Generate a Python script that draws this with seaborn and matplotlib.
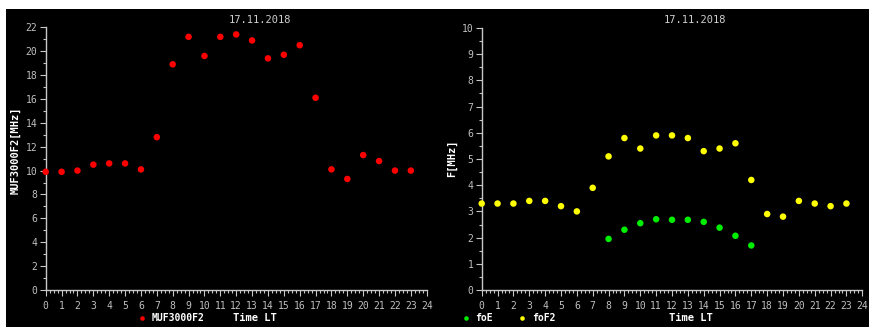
import numpy as np
import pandas as pd
import matplotlib
matplotlib.use("Agg")
import matplotlib.pyplot as plt
import seaborn as sns
from matplotlib.patches import Rectangle
from matplotlib.ticker import MultipleLocator

# ---- data ----
hours = list(range(24))
muf3000f2 = [9.9, 9.9, 10.0, 10.5, 10.6, 10.6, 10.1, 12.8, 18.9, 21.2, 19.6, 21.2,
             21.4, 20.9, 19.4, 19.7, 20.5, 16.1, 10.1, 9.3, 11.3, 10.8, 10.0, 10.0]
fof2 = [3.3, 3.3, 3.3, 3.4, 3.4, 3.2, 3.0, 3.9, 5.1, 5.8, 5.4, 5.9,
        5.9, 5.8, 5.3, 5.4, 5.6, 4.2, 2.9, 2.8, 3.4, 3.3, 3.2, 3.3]
foe_hours = [8, 9, 10, 11, 12, 13, 14, 15, 16, 17]
foe = [1.95, 2.3, 2.55, 2.7, 2.68, 2.68, 2.6, 2.38, 2.07, 1.7]
date_title = "17.11.2018"

sns.set_style("dark")
plt.rcParams['font.family'] = ['DejaVu Sans Mono', 'DejaVu Sans']

W, H = 869, 327
fig = plt.figure(figsize=(W / 100, H / 100), dpi=100, facecolor="white")
fig.patches.append(Rectangle((6 / W, 0), 1 - 6 / W, (H - 9) / H,
                             transform=fig.transFigure, facecolor="black",
                             edgecolor="none", zorder=-10))

ax1 = fig.add_axes([45.7 / W, (H - 290) / H, 381 / W, 262.7 / H])
ax2 = fig.add_axes([481.7 / W, (H - 290) / H, 380.6 / W, 262 / H])

GRAY = "#c8c8c8"
df_muf = pd.DataFrame({"Time LT": hours, "value": muf3000f2, "series": "MUF3000F2"})
df_f = pd.concat([
    pd.DataFrame({"Time LT": foe_hours, "value": foe, "series": "foE"}),
    pd.DataFrame({"Time LT": hours, "value": fof2, "series": "foF2"}),
], ignore_index=True)

sns.scatterplot(data=df_muf, x="Time LT", y="value", hue="series",
                palette={"MUF3000F2": "#ff0000"}, s=22, linewidth=0,
                ax=ax1, clip_on=False, zorder=5)
sns.scatterplot(data=df_f, x="Time LT", y="value", hue="series",
                palette={"foE": "#00ee00", "foF2": "#ffff00"}, s=22, linewidth=0,
                ax=ax2, clip_on=False, zorder=5)

for ax, ymax, ymaj in [(ax1, 22, 2), (ax2, 10, 1)]:
    ax.set_facecolor("none")
    ax.set_xlim(0, 24)
    ax.set_ylim(0, ymax)
    ax.xaxis.set_major_locator(MultipleLocator(1))
    ax.xaxis.set_minor_locator(MultipleLocator(0.25))
    ax.yaxis.set_major_locator(MultipleLocator(ymaj))
    ax.yaxis.set_minor_locator(MultipleLocator(ymaj / 2))
    ax.grid(False)
    for side in ["top", "right"]:
        ax.spines[side].set_visible(False)
    for side in ["left", "bottom"]:
        ax.spines[side].set_visible(True)
        ax.spines[side].set_color(GRAY)
        ax.spines[side].set_linewidth(1.0)
    ax.tick_params(axis="both", which="both", direction="out", colors=GRAY,
                   labelcolor="#c0c0c0", labelsize=7, width=0.8)
    ax.tick_params(axis="y", which="major", length=4, pad=2)
    ax.tick_params(axis="y", which="minor", length=2)
    ax.tick_params(axis="x", which="major", length=4, pad=4)
    ax.tick_params(axis="x", which="minor", length=2.5)
    ax.tick_params(bottom=True, left=True, which="both")
    ax.set_xlabel("")
    ax.set_ylabel("")

# legends
sns.move_legend(ax1, loc="center left", bbox_to_anchor=(0.228, -0.107),
                frameon=False, title=None, fontsize=7, handletextpad=0.5,
                borderpad=0, handlelength=1.0, markerscale=0.7)
sns.move_legend(ax2, loc="center left", bbox_to_anchor=(-0.068, -0.107),
                frameon=False, title=None, fontsize=7, ncol=2,
                handletextpad=0.5, columnspacing=2.5, borderpad=0,
                handlelength=1.0, markerscale=0.7)
for ax in (ax1, ax2):
    leg = ax.get_legend()
    for txt, h in zip(leg.get_texts(), leg.legend_handles):
        txt.set_color(h.get_facecolor()[0] if hasattr(h, "get_facecolor") else "white")
        txt.set_fontweight("bold")

# titles and labels
fig.text(260 / W, 1 - 20 / H, date_title, ha="center", va="center",
         color="#d0d0d0", fontsize=7.5)
fig.text(695 / W, 1 - 20 / H, date_title, ha="center", va="center",
         color="#d0d0d0", fontsize=7.5)
fig.text(255 / W, 1 - 318 / H, "Time LT", ha="center", va="center",
         color="white", fontsize=7.5, fontweight="bold")
fig.text(691 / W, 1 - 318 / H, "Time LT", ha="center", va="center",
         color="white", fontsize=7.5, fontweight="bold")
fig.text(16 / W, 1 - 150 / H, "MUF3000F2[MHz]", ha="center", va="center",
         color="white", fontsize=7.5, fontweight="bold", rotation=90)
fig.text(452 / W, 1 - 158 / H, "F[MHz]", ha="center", va="center",
         color="white", fontsize=7.5, fontweight="bold", rotation=90)

fig.savefig("out.png", dpi=100, facecolor="white")
